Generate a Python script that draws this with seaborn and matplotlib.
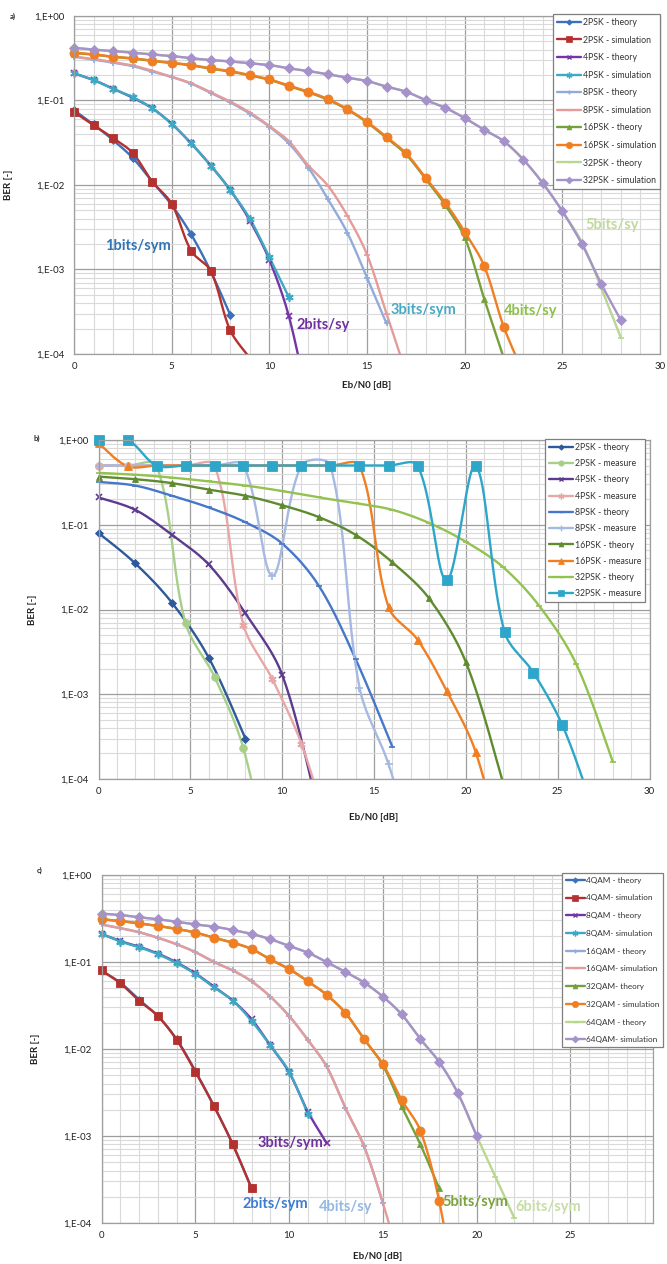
import numpy as np
import matplotlib
matplotlib.use("Agg")
import matplotlib.pyplot as plt
import seaborn as sns
from matplotlib.lines import Line2D
from matplotlib.ticker import FuncFormatter, LogLocator, MultipleLocator, FixedLocator, NullFormatter

sns.set_theme(style="white")
plt.rcParams['font.family'] = ['Lato', 'DejaVu Sans']

# ---------------- Panel a: M-PSK theory vs simulation ----------------
a_2psk_th = [0.077, 0.052, 0.034, 0.021, 0.011, 0.0058, 0.0026, 0.00095, 0.00029]
a_2psk_sim = [0.073, 0.051, 0.036, 0.024, 0.011, 0.006, 0.00166, 0.00096, 0.00019, 0.00009]
a_4psk_th = [0.21, 0.175, 0.138, 0.108, 0.081, 0.053, 0.031, 0.017, 0.0087, 0.0038, 0.0013, 0.00028, 0.000025]
a_4psk_sim = [0.21, 0.175, 0.137, 0.11, 0.081, 0.053, 0.031, 0.017, 0.0087, 0.004, 0.0014, 0.00047]
a_8psk_th = [0.33, 0.305, 0.28, 0.255, 0.22, 0.19, 0.158, 0.123, 0.095, 0.07, 0.049, 0.031, 0.016,
             0.0068, 0.0027, 0.0008, 0.00023]
a_8psk_sim = [0.33, 0.31, 0.285, 0.26, 0.225, 0.19, 0.16, 0.125, 0.097, 0.072, 0.05, 0.033, 0.017,
              0.0098, 0.0043, 0.0015, 0.0003, 0.00006]
a_16psk_th = [0.365, 0.35, 0.328, 0.314, 0.294, 0.278, 0.26, 0.238, 0.22, 0.198, 0.176, 0.148, 0.125,
              0.102, 0.078, 0.055, 0.036, 0.023, 0.0118, 0.0058, 0.0024, 0.00045, 0.00009]
a_16psk_sim = [0.368, 0.352, 0.33, 0.316, 0.296, 0.28, 0.263, 0.24, 0.223, 0.2, 0.178, 0.15, 0.127,
               0.104, 0.079, 0.056, 0.037, 0.0237, 0.0122, 0.0062, 0.0028, 0.0011, 0.00021, 0.00006]
a_32psk_th = [0.42, 0.4, 0.385, 0.368, 0.352, 0.336, 0.316, 0.301, 0.29, 0.276, 0.263, 0.24, 0.223,
              0.204, 0.186, 0.17, 0.146, 0.127, 0.101, 0.082, 0.062, 0.045, 0.033, 0.02, 0.0105,
              0.0049, 0.0021, 0.0006, 0.000155]
a_32psk_sim = [0.42, 0.4, 0.385, 0.368, 0.352, 0.336, 0.316, 0.301, 0.29, 0.276, 0.263, 0.24, 0.223,
               0.204, 0.186, 0.17, 0.146, 0.127, 0.101, 0.082, 0.062, 0.045, 0.033, 0.02, 0.0105,
               0.0049, 0.002, 0.00067, 0.00025]
a_labels = ["2PSK - theory", "2PSK - simulation", "4PSK - theory", "4PSK - simulation",
            "8PSK - theory", "8PSK - simulation", "16PSK - theory", "16PSK - simulation",
            "32PSK - theory", "32PSK - simulation"]

# ---------------- Panel b: M-PSK theory vs measurement ----------------
b_th_x = [0, 2, 4, 6, 8, 10, 12, 14, 16, 18, 20, 22, 24, 26, 28]
b_2psk_th = [0.08, 0.035, 0.012, 0.0027, 0.0003]
b_4psk_th = [0.21, 0.15, 0.076, 0.034, 0.009, 0.0017, 0.00004]
b_8psk_th = [0.32, 0.29, 0.22, 0.16, 0.107, 0.06, 0.019, 0.0026, 0.00024]
b_16psk_th = [0.37, 0.345, 0.31, 0.26, 0.22, 0.17, 0.123, 0.076, 0.036, 0.0135, 0.0024, 0.000095]
b_32psk_th = [0.41, 0.39, 0.36, 0.325, 0.29, 0.25, 0.21, 0.18, 0.15, 0.105, 0.063, 0.032, 0.011,
              0.0023, 0.00016]
b_meas_x = [0, 1.58, 3.16, 4.74, 6.32, 7.89, 9.47, 11.05, 12.63, 14.21, 15.79, 17.37, 18.95,
            20.53, 22.11, 23.68, 25.26, 26.84]
b_2psk_me = [0.5, 0.5, 0.5, 0.0069, 0.0016, 0.00023, 0.000006]
b_4psk_me = [0.5, 0.5, 0.5, 0.5, 0.5, 0.0066, 0.0015, 0.00026, 0.00002]
b_8psk_me = [0.5, 0.5, 0.5, 0.5, 0.5, 0.5, 0.025, 0.5, 0.5, 0.0012, 0.00015, 0.00001]
b_16psk_me = [0.92, 0.49, 0.5, 0.5, 0.5, 0.5, 0.5, 0.5, 0.5, 0.5, 0.0107, 0.0044, 0.0011, 0.00021, 0.00001]
b_32psk_me = [1.0, 1.0, 0.5, 0.5, 0.5, 0.5, 0.5, 0.5, 0.5, 0.5, 0.5, 0.5, 0.022, 0.5, 0.0054,
              0.0018, 0.00043, 0.00005]
b_labels = ["2PSK - theory", "2PSK - measure", "4PSK - theory", "4PSK - measure",
            "8PSK - theory", "8PSK - measure", "16PSK - theory", "16PSK - measure",
            "32PSK - theory", "32PSK - measure"]

# ---------------- Panel c: M-QAM theory vs simulation ----------------
c_4qam_th = [0.079, 0.058, 0.037, 0.024, 0.013, 0.0056, 0.0022, 0.0008, 0.00025]
c_4qam_sim = [0.08, 0.057, 0.036, 0.024, 0.0128, 0.0055, 0.0022, 0.0008, 0.00025]
c_8qam_th = [0.21, 0.174, 0.15, 0.125, 0.099, 0.074, 0.052, 0.036, 0.022, 0.011, 0.0054, 0.0019, 0.00083]
c_8qam_sim = [0.21, 0.172, 0.148, 0.123, 0.097, 0.073, 0.051, 0.036, 0.021, 0.011, 0.0055, 0.0018]
c_16qam_th = [0.27, 0.245, 0.22, 0.19, 0.16, 0.13, 0.1, 0.08, 0.06, 0.04, 0.024, 0.0127, 0.0063,
              0.0021, 0.00076, 0.00017]
c_16qam_sim = [0.27, 0.245, 0.22, 0.19, 0.16, 0.13, 0.1, 0.08, 0.06, 0.04, 0.024, 0.0127, 0.0063,
               0.0021, 0.00076, 0.00017, 0.00003]
c_32qam_th = [0.31, 0.296, 0.278, 0.26, 0.24, 0.218, 0.19, 0.167, 0.141, 0.107, 0.083, 0.06, 0.042,
              0.026, 0.013, 0.0065, 0.0022, 0.0008, 0.00025]
c_32qam_sim = [0.31, 0.296, 0.278, 0.26, 0.24, 0.218, 0.19, 0.167, 0.141, 0.107, 0.083, 0.06, 0.042,
               0.026, 0.013, 0.0067, 0.0026, 0.00115, 0.00018, 0.00001]
c_64qam_th = [0.36, 0.347, 0.327, 0.31, 0.29, 0.27, 0.255, 0.233, 0.21, 0.183, 0.153, 0.128, 0.1,
              0.077, 0.058, 0.04, 0.025, 0.013, 0.0071, 0.0031, 0.001, 0.00034, 0.000115]
c_64qam_sim = [0.36, 0.347, 0.327, 0.31, 0.29, 0.27, 0.255, 0.233, 0.21, 0.183, 0.153, 0.128, 0.1,
               0.077, 0.058, 0.04, 0.025, 0.013, 0.0071, 0.0031, 0.001]
c_labels = ["4QAM - theory", "4QAM- simulation", "8QAM - theory", "8QAM- simulation",
            "16QAM - theory", "16QAM- simulation", "32QAM- theory", "32QAM - simulation",
            "64QAM - theory", "64QAM- simulation"]

xticks = [0, 5, 10, 15, 20, 25, 30]
yticks = [1e-4, 1e-3, 1e-2, 1e-1, 1e0]

ASTER = (6, 2, 0)

# colours
C_BLUE, C_RED, C_PURP, C_TEAL = '#3D70B8', '#B3312E', '#7435A6', '#3FA9C3'
C_LBLUE, C_PINK, C_GREEN, C_ORANGE = '#91ACDA', '#E39C9A', '#76A03C', '#F07E22'
C_PGREEN, C_LAV = '#B9D78E', '#A592CB'

style_a = [(C_BLUE, 'D', 4), (C_RED, 's', 5.5), (C_PURP, 'x', 4), (C_TEAL, ASTER, 6),
           (C_LBLUE, '+', 5), (C_PINK, '_', 5), (C_GREEN, '^', 5), (C_ORANGE, 'o', 6.5),
           (C_PGREEN, '_', 5), (C_LAV, 'D', 5)]
style_b = [('#2E5A9C', 'D', 4), ('#A8CF8A', 'o', 5.5), ('#5C3B8E', 'x', 4), ('#E8A7A7', ASTER, 6),
           ('#4677C8', '_', 5), ('#A6B9E2', '+', 6), ('#5F8B2F', '^', 5), ('#F07E22', '^', 5.5),
           ('#93C24F', '_', 5), ('#2EA6C9', 's', 6.5)]
style_c = style_a


def smooth(x, y, sx, sy, n=24):
    """Excel-style smoothed line: cubic Bezier through the points in screen space
    (x in px per dB, log10(y) in px per decade), tangents weighted by segment lengths."""
    x = np.asarray(x, float)
    ly = np.log10(np.asarray(y, float))
    P = np.column_stack([x * sx, ly * sy])
    if len(P) < 3:
        return x, 10 ** ly
    Pe = np.vstack([P[0], P, P[-1]])
    t = np.linspace(0, 1, n, endpoint=False)[:, None]
    segs = []
    for i in range(len(P) - 1):
        p0, p1, p2, p3 = Pe[i], Pe[i + 1], Pe[i + 2], Pe[i + 3]
        d01 = np.hypot(*(p1 - p0))
        d12 = np.hypot(*(p2 - p1))
        d23 = np.hypot(*(p3 - p2))
        f1 = d12 / (d01 + d12) / 3.0 if d01 > 0 else 1 / 6.0
        f2 = d12 / (d12 + d23) / 3.0 if d23 > 0 else 1 / 6.0
        b1 = p1 + (p2 - p0) * f1
        b2 = p2 - (p3 - p1) * f2
        segs.append((1 - t) ** 3 * p1 + 3 * (1 - t) ** 2 * t * b1 + 3 * (1 - t) * t ** 2 * b2 + t ** 3 * p2)
    segs.append(P[-1:])
    S = np.vstack(segs)
    return S[:, 0] / sx, 10 ** (S[:, 1] / sy)


def fmt(v, pos):
    e = int(round(np.log10(v)))
    return f"1,E{e:+03d}"


def draw_series(ax, x, y, color, marker, ms, scale, lw=1.7, xmax=30):
    x = np.asarray(x, float)[:len(y)]
    y = np.asarray(y, float)
    px, py = smooth(x, y, *scale)
    sns.lineplot(x=px, y=py, ax=ax, color=color, linewidth=lw, sort=False,
                 estimator=None, legend=False)
    ok = (y >= 1e-4) & (x <= xmax)
    mew = 1.2 if marker in ('x', '+', '_', ASTER) else 0.6
    ax.plot(x[ok], y[ok], linestyle='none', marker=marker, ms=ms, color=color,
            mfc=color, mec=color, mew=mew, clip_on=False, zorder=ax.lines[-1].get_zorder() + 0.01)


def setup_axes(ax, xmax):
    ax.set_yscale('log')
    ax.set_ylim(1e-4, 1.0)
    ax.set_xlim(0, xmax)
    ax.xaxis.set_major_locator(FixedLocator([t for t in xticks if t <= xmax + 1e-9]))
    ax.xaxis.set_minor_locator(MultipleLocator(1))
    ax.yaxis.set_major_locator(FixedLocator(yticks))
    ax.yaxis.set_minor_locator(LogLocator(base=10, subs=np.arange(2, 10)))
    ax.yaxis.set_minor_formatter(NullFormatter())
    ax.yaxis.set_major_formatter(FuncFormatter(fmt))
    ax.grid(which='major', color='#9e9e9e', linewidth=0.9)
    ax.grid(which='minor', color='#dadada', linewidth=0.8)
    ax.set_axisbelow(True)
    ax.tick_params(which='both', length=0, labelsize=7, colors='#222222')
    ax.tick_params(axis='y', pad=7)
    ax.tick_params(axis='x', pad=6)
    for s in ax.spines.values():
        s.set_color('#9e9e9e')
        s.set_linewidth(0.9)
    ax.set_ylabel('BER [-]', fontsize=7, fontweight='bold', color='#222222')
    ax.set_xlabel('Eb/N0 [dB]', fontsize=7, fontweight='bold', color='#222222')


def make_legend(fig, styles, labels, left_px, top_px, spacing, fs=6.3, hl=2.8, lw=1.7):
    handles = [Line2D([], [], color=c, marker=m, ms=ms * 0.7, lw=lw,
                      mew=1.0 if m in ('x', '+', '_', ASTER) else 0.5)
               for (c, m, ms) in styles]
    leg = fig.legend(handles, labels, loc='upper left',
                     bbox_to_anchor=(left_px / 667, 1 - top_px / 1264),
                     bbox_transform=fig.transFigure, fontsize=fs, frameon=True,
                     fancybox=False, framealpha=1, edgecolor='#7f7f7f',
                     handlelength=hl, handletextpad=0.15, labelspacing=spacing,
                     borderpad=0.45, borderaxespad=0)
    leg.get_frame().set_linewidth(0.9)
    for t in leg.get_texts():
        t.set_color('#333333')
    return leg


fig = plt.figure(figsize=(6.67, 12.64), dpi=100)
tk = dict(fontsize=10.5, fontweight='bold', va='center', ha='left')

# panel a
axa = fig.add_axes([74 / 667, 1 - 354 / 1264, 586 / 667, 338 / 1264])
setup_axes(axa, 30)
xa = np.arange(0, 29)
series_a = [a_2psk_th, a_2psk_sim, a_4psk_th, a_4psk_sim, a_8psk_th, a_8psk_sim,
            a_16psk_th, a_16psk_sim, a_32psk_th, a_32psk_sim]
for ser, (c, m, ms) in zip(series_a, style_a):
    draw_series(axa, xa, ser, c, m, ms, (19.53, 84.5))
axa.yaxis.set_label_coords(-0.104, 0.5)
axa.xaxis.set_label_coords(0.5, -0.08)
axa.text(1.6, 0.0019, '1bits/sym', color='#2F74B5', **tk)
axa.text(11.4, 0.00022, '2bits/sy', color='#7030A0', **tk)
axa.text(16.2, 0.00033, '3bits/sym', color='#46AAC5', **tk)
axa.text(22.0, 0.00032, '4bits/sy', color='#8DC048', **tk)
axa.text(26.2, 0.0034, '5bits/sy', color='#C1D99E', **tk)
make_legend(fig, style_a, a_labels, 553, 14, 0.98)
fig.text(10 / 667, 1 - 16 / 1264, 'a)', fontsize=5.5, fontweight='bold', va='center')

# panel b
axb = fig.add_axes([98.5 / 667, 1 - 779 / 1264, 551 / 667, 339 / 1264])
setup_axes(axb, 30)
th_b = [b_2psk_th, b_4psk_th, b_8psk_th, b_16psk_th, b_32psk_th]
me_b = [b_2psk_me, b_4psk_me, b_8psk_me, b_16psk_me, b_32psk_me]
for i in range(5):
    c, m, ms = style_b[2 * i]
    draw_series(axb, b_th_x, th_b[i], c, m, ms, (18.37, 84.7))
    c, m, ms = style_b[2 * i + 1]
    draw_series(axb, b_meas_x, me_b[i], c, m, ms, (18.37, 84.7))
axb.yaxis.set_label_coords(-0.112, 0.5)
axb.xaxis.set_label_coords(0.5, -0.1)
make_legend(fig, style_b, b_labels, 545, 439, 0.83)
fig.text(33 / 667, 1 - 438 / 1264, 'b)', fontsize=5.5, fontweight='bold', va='center')

# panel c
axc = fig.add_axes([101.5 / 667, 1 - 1223 / 1264, 551.5 / 667, 348 / 1264])
setup_axes(axc, 29.4)
xc = np.arange(0, 23)
series_c = [c_4qam_th, c_4qam_sim, c_8qam_th, c_8qam_sim, c_16qam_th, c_16qam_sim,
            c_32qam_th, c_32qam_sim, c_64qam_th, c_64qam_sim]
for ser, (c, m, ms) in zip(series_c, style_c):
    draw_series(axc, xc, ser, c, m, ms, (18.76, 87.0), xmax=29.4)
axc.yaxis.set_label_coords(-0.111, 0.5)
axc.xaxis.set_label_coords(0.5, -0.084)
axc.text(8.34, 0.00083, '3bits/sym', color='#7030A0', **tk)
axc.text(7.49, 0.000166, '2bits/sym', color='#3C7DD0', **tk)
axc.text(11.6, 0.000152, '4bits/sy', color='#93B8E3', **tk)
axc.text(18.15, 0.000174, '5bits/sym', color='#7AA23E', **tk)
axc.text(22.04, 0.000152, '6bits/sym', color='#C6DDA6', **tk)
make_legend(fig, style_c, c_labels, 562, 873, 1.31, fs=5.9, hl=2.3)
fig.text(37 / 667, 1 - 870 / 1264, 'c)', fontsize=5.5, fontweight='bold', va='center')

fig.savefig('out.png', dpi=100)
